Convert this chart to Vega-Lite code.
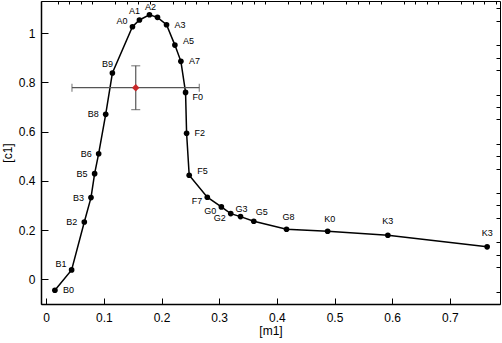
{
  "$schema": "https://vega.github.io/schema/vega-lite/v6.json",
  "width": 459,
  "height": 303,
  "autosize": {"type": "none"},
  "padding": {"left": 41, "right": 2, "top": 1, "bottom": 39},
  "config": {
    "view": {"stroke": "#000", "strokeWidth": 1},
    "font": "Liberation Sans",
    "axis": {"labelFont": "Liberation Sans", "titleFont": "Liberation Sans", "labelColor": "#000", "titleColor": "#000", "grid": false, "labelFontSize": 12, "titleFontSize": 12, "titleFontWeight": "normal", "domainColor": "#000", "tickColor": "#000"}
  },
  "datasets": {
    "track": [
      {"label": "B0", "m": 0.0151, "c": -0.044, "i": 0},
      {"label": "B1", "m": 0.0441, "c": 0.0385, "i": 1},
      {"label": "B2", "m": 0.0661, "c": 0.233, "i": 2},
      {"label": "B3", "m": 0.0777, "c": 0.332, "i": 3},
      {"label": "B5", "m": 0.084, "c": 0.429, "i": 4},
      {"label": "B6", "m": 0.091, "c": 0.51, "i": 5},
      {"label": "B8", "m": 0.1032, "c": 0.67, "i": 6},
      {"label": "B9", "m": 0.1148, "c": 0.8377, "i": 7},
      {"label": "A0", "m": 0.1496, "c": 1.0256, "i": 8},
      {"label": "A1", "m": 0.1617, "c": 1.053, "i": 9},
      {"label": "A2", "m": 0.1791, "c": 1.074, "i": 10},
      {"label": "", "m": 0.193, "c": 1.0637, "i": 11},
      {"label": "A3", "m": 0.2087, "c": 1.0337, "i": 12},
      {"label": "A5", "m": 0.2232, "c": 0.951, "i": 13},
      {"label": "A7", "m": 0.2336, "c": 0.885, "i": 14},
      {"label": "F0", "m": 0.2417, "c": 0.759, "i": 15},
      {"label": "F2", "m": 0.2435, "c": 0.593, "i": 16},
      {"label": "F5", "m": 0.248, "c": 0.4227, "i": 17},
      {"label": "F7", "m": 0.2794, "c": 0.3335, "i": 18},
      {"label": "G0", "m": 0.3038, "c": 0.294, "i": 19},
      {"label": "G2", "m": 0.32, "c": 0.267, "i": 20},
      {"label": "G3", "m": 0.337, "c": 0.2548, "i": 21},
      {"label": "G5", "m": 0.36, "c": 0.236, "i": 22},
      {"label": "G8", "m": 0.4168, "c": 0.2036, "i": 23},
      {"label": "K0", "m": 0.4881, "c": 0.1955, "i": 24},
      {"label": "K3", "m": 0.5925, "c": 0.179, "i": 25},
      {"label": "K3", "m": 0.7647, "c": 0.132, "i": 26}
    ],
    "sun": [
      {"m": 0.1553, "c": 0.778, "m_lo": 0.0447, "m_hi": 0.2655, "c_lo": 0.689, "c_hi": 0.867}
    ]
  },
  "resolve": {"axis": {"x": "independent", "y": "independent"}},
  "layer": [
    {
      "layer": [
        {
          "data": {"name": "track"},
          "mark": {"type": "line", "color": "#000", "strokeWidth": 1.5},
          "encoding": {
            "x": {"field": "m", "type": "quantitative", "scale": {"domain": [-0.009, 0.787], "nice": false, "zero": false},
                  "axis": {"title": "[m1]", "values": [0, 0.1, 0.2, 0.3, 0.4, 0.5, 0.6, 0.7], "format": "~g", "tickSize": -6, "labelPadding": 14, "titlePadding": 2, "domainWidth": 1.5}},
            "y": {"field": "c", "type": "quantitative", "scale": {"domain": [-0.1, 1.13], "nice": false, "zero": false},
                  "axis": {"title": "[c1]", "values": [0, 0.2, 0.4, 0.6, 0.8, 1], "format": "~g", "tickSize": -7, "labelPadding": 13, "titlePadding": 4, "domainWidth": 1.5}},
            "order": {"field": "i", "type": "quantitative"}
          }
        },
        {
          "data": {"name": "sun"},
          "mark": {"type": "rule", "color": "#555", "strokeWidth": 1.2},
          "encoding": {"x": {"field": "m_lo", "type": "quantitative"}, "x2": {"field": "m_hi"}, "y": {"field": "c", "type": "quantitative"}}
        },
        {
          "data": {"name": "sun"},
          "mark": {"type": "rule", "color": "#555", "strokeWidth": 1.2},
          "encoding": {"x": {"field": "m", "type": "quantitative"}, "y": {"field": "c_lo", "type": "quantitative"}, "y2": {"field": "c_hi"}}
        },
        {
          "data": {"name": "sun"},
          "transform": [{"fold": ["m_lo", "m_hi"], "as": ["k", "v"]}],
          "mark": {"type": "tick", "orient": "vertical", "color": "#555", "size": 8, "thickness": 1.2},
          "encoding": {"x": {"field": "v", "type": "quantitative"}, "y": {"field": "c", "type": "quantitative"}}
        },
        {
          "data": {"name": "sun"},
          "transform": [{"fold": ["c_lo", "c_hi"], "as": ["k", "v"]}],
          "mark": {"type": "tick", "orient": "horizontal", "color": "#555", "size": 9, "thickness": 1.2},
          "encoding": {"x": {"field": "m", "type": "quantitative"}, "y": {"field": "v", "type": "quantitative"}}
        },
        {
          "data": {"name": "sun"},
          "mark": {"type": "point", "shape": "diamond", "filled": true, "color": "#c8282a", "size": 55, "opacity": 1},
          "encoding": {"x": {"field": "m", "type": "quantitative"}, "y": {"field": "c", "type": "quantitative"}}
        },
        {
          "data": {"name": "track"},
          "mark": {"type": "circle", "color": "#000", "size": 32, "opacity": 1},
          "encoding": {"x": {"field": "m", "type": "quantitative"}, "y": {"field": "c", "type": "quantitative"}}
        },
        {
          "data": {"name": "track"},
          "transform": [{"filter": "indexof(['A3','A7','F2','B0'], datum.label) >= 0"}],
          "mark": {"type": "text", "align": "left", "baseline": "middle", "dx": 8, "dy": 0, "fontSize": 9, "color": "#000"},
          "encoding": {"x": {"field": "m", "type": "quantitative"}, "y": {"field": "c", "type": "quantitative"}, "text": {"field": "label"}}
        },
        {
          "data": {"name": "track"},
          "transform": [{"filter": "indexof(['A5','F5'], datum.label) >= 0"}],
          "mark": {"type": "text", "align": "left", "baseline": "middle", "dx": 8, "dy": -4, "fontSize": 9, "color": "#000"},
          "encoding": {"x": {"field": "m", "type": "quantitative"}, "y": {"field": "c", "type": "quantitative"}, "text": {"field": "label"}}
        },
        {
          "data": {"name": "track"},
          "transform": [{"filter": "datum.label == 'F0'"}],
          "mark": {"type": "text", "align": "left", "baseline": "middle", "dx": 7, "dy": 5, "fontSize": 9, "color": "#000"},
          "encoding": {"x": {"field": "m", "type": "quantitative"}, "y": {"field": "c", "type": "quantitative"}, "text": {"field": "label"}}
        },
        {
          "data": {"name": "track"},
          "transform": [{"filter": "indexof(['B8','B6','B5','B3','B2'], datum.label) >= 0"}],
          "mark": {"type": "text", "align": "right", "baseline": "middle", "dx": -7, "dy": 0, "fontSize": 9, "color": "#000"},
          "encoding": {"x": {"field": "m", "type": "quantitative"}, "y": {"field": "c", "type": "quantitative"}, "text": {"field": "label"}}
        },
        {
          "data": {"name": "track"},
          "transform": [{"filter": "indexof(['B1','A0'], datum.label) >= 0"}],
          "mark": {"type": "text", "align": "right", "baseline": "middle", "dx": -5, "dy": -6, "fontSize": 9, "color": "#000"},
          "encoding": {"x": {"field": "m", "type": "quantitative"}, "y": {"field": "c", "type": "quantitative"}, "text": {"field": "label"}}
        },
        {
          "data": {"name": "track"},
          "transform": [{"filter": "indexof(['F7','G0','G2'], datum.label) >= 0"}],
          "mark": {"type": "text", "align": "right", "baseline": "middle", "dx": -5, "dy": 4, "fontSize": 9, "color": "#000"},
          "encoding": {"x": {"field": "m", "type": "quantitative"}, "y": {"field": "c", "type": "quantitative"}, "text": {"field": "label"}}
        },
        {
          "data": {"name": "track"},
          "transform": [{"filter": "indexof(['A2','G3'], datum.label) >= 0"}],
          "mark": {"type": "text", "align": "center", "baseline": "middle", "dx": 1, "dy": -8, "fontSize": 9, "color": "#000"},
          "encoding": {"x": {"field": "m", "type": "quantitative"}, "y": {"field": "c", "type": "quantitative"}, "text": {"field": "label"}}
        },
        {
          "data": {"name": "track"},
          "transform": [{"filter": "indexof(['A1','B9'], datum.label) >= 0"}],
          "mark": {"type": "text", "align": "center", "baseline": "middle", "dx": -5, "dy": -9, "fontSize": 9, "color": "#000"},
          "encoding": {"x": {"field": "m", "type": "quantitative"}, "y": {"field": "c", "type": "quantitative"}, "text": {"field": "label"}}
        },
        {
          "data": {"name": "track"},
          "transform": [{"filter": "indexof(['G5'], datum.label) >= 0"}],
          "mark": {"type": "text", "align": "center", "baseline": "middle", "dx": 8, "dy": -9, "fontSize": 9, "color": "#000"},
          "encoding": {"x": {"field": "m", "type": "quantitative"}, "y": {"field": "c", "type": "quantitative"}, "text": {"field": "label"}}
        },
        {
          "data": {"name": "track"},
          "transform": [{"filter": "indexof(['G8','K0'], datum.label) >= 0"}],
          "mark": {"type": "text", "align": "center", "baseline": "middle", "dx": 2, "dy": -12, "fontSize": 9, "color": "#000"},
          "encoding": {"x": {"field": "m", "type": "quantitative"}, "y": {"field": "c", "type": "quantitative"}, "text": {"field": "label"}}
        },
        {
          "data": {"name": "track"},
          "transform": [{"filter": "datum.label == 'K3'"}],
          "mark": {"type": "text", "align": "center", "baseline": "middle", "dx": 0, "dy": -14, "fontSize": 9, "color": "#000"},
          "encoding": {"x": {"field": "m", "type": "quantitative"}, "y": {"field": "c", "type": "quantitative"}, "text": {"field": "label"}}
        }
      ]
    },
    {
      "data": {"name": "track"},
      "mark": {"type": "point", "opacity": 0},
      "encoding": {
        "x": {"field": "m", "type": "quantitative",
              "axis": {"title": null, "labels": false, "domain": false, "tickSize": -3,
                       "values": [0.02, 0.04, 0.06, 0.08, 0.12, 0.14, 0.16, 0.18, 0.22, 0.24, 0.26, 0.28, 0.32, 0.34, 0.36, 0.38, 0.42, 0.44, 0.46, 0.48, 0.52, 0.54, 0.56, 0.58, 0.62, 0.64, 0.66, 0.68, 0.72, 0.74, 0.76, 0.78]}},
        "y": {"field": "c", "type": "quantitative",
              "axis": {"title": null, "labels": false, "domain": false, "tickSize": -4,
                       "values": [-0.05, 0.05, 0.1, 0.15, 0.25, 0.3, 0.35, 0.45, 0.5, 0.55, 0.65, 0.7, 0.75, 0.85, 0.9, 0.95, 1.05, 1.1]}}
      }
    }
  ]
}
